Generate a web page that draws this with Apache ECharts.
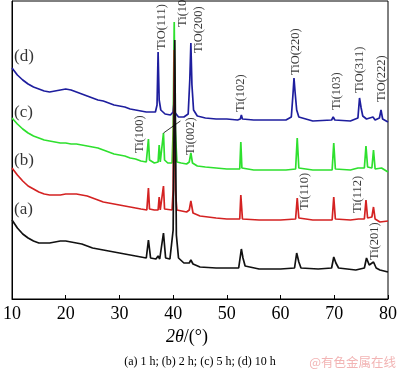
<!DOCTYPE html>
<html>
<head>
<meta charset="utf-8">
<script src="https://cdn.jsdelivr.net/npm/echarts@6/dist/echarts.min.js"></script>
<style>
html,body{margin:0;padding:0;background:#fff;}
#chart{width:400px;height:373px;}
</style>
</head>
<body>
<div id="chart"></div>
<script>
// 2θ (deg) and relative intensity (offset, arbitrary units)
const curveD = [[10,231],[11,224],[12,219],[13,215],[14,212],[15,210],[16,208],[17,207],[18,208],[19,209],[20,210],[21,209],[22,207],[23,205],[24,203],[25,201],[26,199],[27,198],[28,196],[29,194],[30,193],[31,192],[32,190],[33,189],[34,188],[35,187],[36,187],[36.7,187],[37.0,194],[37.2,247],[37.4,199],[37.7,189],[38.5,185],[39.5,184],[40.0,187],[40.2,199],[40.4,186],[41,182],[42,182],[42.8,185],[43.1,219],[43.3,256],[43.5,214],[43.8,189],[44.5,183],[46,181],[48,180],[50,180],[52,179],[52.5,180],[52.7,184],[52.9,180],[55,179],[58,179],[61,179],[62.0,182],[62.3,204],[62.5,221],[62.7,207],[63.0,189],[63.4,182],[66,178],[69.5,179],[69.8,182],[70.1,179],[73,178],[74.4,181],[74.7,201],[75.0,191],[75.3,183],[75.6,182],[76,180],[77.2,182],[77.6,179],[78.4,181],[78.7,189],[79.0,180],[80,177]];
const curveC = [[10,181],[11,175],[12,170],[13,166],[14,163],[15,161],[16,159],[17,158],[18,157],[19,156],[20,156],[21,155],[22,155],[23,154],[24,153],[25,152],[26,151],[27,149],[28,147],[29,145],[30,144],[31,143],[32,141],[33,140],[34,138],[35.0,137],[35.2,139],[35.4,160],[35.6,139],[36.5,136],[37.2,137],[37.4,154],[37.6,137],[37.9,137],[38.2,166],[38.4,139],[39,136],[39.8,136],[40.0,169],[40.2,277],[40.4,169],[40.7,137],[41.5,136],[42.5,135],[43.0,137],[43.3,146],[43.6,136],[44.5,133],[46,132],[48,131],[50,130],[52.4,130],[52.6,157],[52.8,131],[55,129],[58,129],[61,129],[62.8,130],[63.1,161],[63.4,131],[66,129],[69.6,129],[69.9,156],[70.2,130],[73,129],[74.4,131],[75.6,131],[75.9,153],[76.2,132],[77.0,131],[77.3,149],[77.6,130],[78.8,131],[80,127]];
const curveB = [[10,131],[11,124],[12,118],[13,113],[14,110],[15,107],[16,105],[17,104],[18,104],[19,104],[20,105],[21,105],[22,105],[23,104],[24,103],[25,101],[26,99],[27,97],[28,96],[29,95],[30,94],[31,93],[32,92],[33,91],[34,90],[35.1,89],[35.4,111],[35.6,90],[36.5,89],[37.2,89],[37.4,102],[37.6,89],[37.9,89],[38.2,113],[38.4,90],[39.8,89],[40.0,109],[40.2,249],[40.4,109],[40.7,89],[42.5,87],[43.0,89],[43.3,98],[43.7,86],[45,83],[48,81],[50,80],[52.4,80],[52.6,104],[52.9,80],[56,79],[60,79],[62.8,80],[63.1,101],[63.4,81],[66,79],[69.6,79],[69.9,102],[70.2,80],[73,79],[74.5,80],[75.6,80],[75.9,99],[76.2,81],[77.0,82],[77.3,92],[77.6,80],[78.5,77],[80,78]];
const curveA = [[10,79],[11,71],[12,65],[13,61],[14,58],[15,56],[16,56],[17,56],[18,57],[19,58],[20,58],[21,57],[22,56],[23,55],[24,53],[25,51],[26,50],[27,49],[28,48],[29,47],[30,46],[31,45],[32,44],[33,43],[34,42],[35.0,41],[35.4,59],[35.8,41],[36.8,40],[37.2,43],[37.5,40],[38.2,66],[38.6,41],[39.4,40],[40.0,69],[40.3,259],[40.6,64],[41.0,41],[42,36],[43.0,36],[43.3,39],[43.7,35],[45,32],[48,31],[52.2,31],[52.7,50],[53.0,41],[53.4,33],[56,30],[60,30],[62.6,31],[63.0,46],[63.4,37],[63.8,31],[67,30],[69.5,31],[69.9,42],[70.3,36],[70.8,31],[74,29],[75.6,31],[76.0,41],[76.5,34],[77.3,37],[77.8,31],[78.5,29],[80,27]];

const peakLabels = ['TiO(111)','Ti(101)','TiO(200)','Ti(100)','Ti(002)','Ti(102)','TiO(220)','Ti(103)','TiO(311)','TiO(222)','Ti(110)','Ti(112)','Ti(201)'];
const peakLabelX = [37.83,41.78,44.83,33.70,43.21,52.55,62.78,70.50,74.81,78.76,64.58,74.45,77.50];
const peakLabelY = [249,272,246,146,144,187,224,189,206,197,89,86,39];

const curveNames = ['(d)','(c)','(b)','(a)'];
const curveNameX = [10.0,10.0,10.0,10.0];
const curveNameY = [242,186,138,89];

const leaderLine = [[38.2,166],[41.35,178]];

const xTicks = [10,20,30,40,50,60,70,80];

const serif = 'Liberation Serif';
const chart = echarts.init(document.getElementById('chart'));

const labelData = peakLabels.map((t,i)=>({value:[peakLabelX[i],peakLabelY[i]],name:t}));
const nameData = curveNames.map((t,i)=>({value:[curveNameX[i],curveNameY[i]],name:t}));

function line(data,color){
  return {type:'line',data:data,showSymbol:false,symbol:'none',lineStyle:{color:color,width:1.7},animation:false,z:2};
}

chart.setOption({
  animation:false,
  grid:{left:3,right:7,top:1,bottom:74,show:true,borderColor:'#000',borderWidth:1},
  xAxis:{type:'value',min:xTicks[0],max:xTicks[xTicks.length-1],interval:10,
    axisLine:{show:true,lineStyle:{color:'#000',width:1}},
    axisTick:{show:true,inside:true,length:4,lineStyle:{color:'#000'}},
    splitLine:{show:false},
    axisLabel:{color:'#000',fontFamily:serif,fontSize:18,margin:6}
  },
  yAxis:{type:'value',min:0,max:298,show:true,axisLine:{show:true,lineStyle:{color:'#000'}},axisTick:{show:false},axisLabel:{show:false},splitLine:{show:false}},
  series:[
    line(curveC,'#2ee02e'),
    line(curveD,'#1e1e9e'),
    line(curveB,'#d42222'),
    line(curveA,'#111111'),
    {type:'line',data:leaderLine,showSymbol:false,symbol:'none',lineStyle:{color:'#000',width:0.8},z:3},
    {type:'scatter',data:labelData,symbolSize:1,itemStyle:{color:'rgba(0,0,0,0)'},z:4,
      label:{show:true,position:'inside',rotate:90,align:'left',verticalAlign:'middle',formatter:p=>p.name,
        fontFamily:serif,fontSize:12.5,color:'#000'}},
    {type:'scatter',data:nameData,symbolSize:1,itemStyle:{color:'rgba(0,0,0,0)'},z:4,
      label:{show:true,position:'inside',align:'left',verticalAlign:'middle',offset:[2,0],formatter:p=>p.name,
        fontFamily:serif,fontSize:17,color:'#000'}}
  ],
  graphic:[
    {type:'text',left:166,top:328,style:{text:'{i|2θ}/(°)',fontFamily:serif,fontSize:18,fill:'#000',
      rich:{i:{fontStyle:'italic',fontFamily:serif,fontSize:18,fill:'#000'}}}},
    {type:'text',left:'center',top:356,style:{text:'(a) 1 h; (b) 2 h; (c) 5 h; (d) 10 h',fontFamily:serif,fontSize:12,fill:'#000'}},
    {type:'text',right:4,top:356,style:{text:'@有色金属在线',fontFamily:'Noto Sans CJK SC',fontSize:12.5,fill:'#f2b4b4'}}
  ]
});
</script>
</body>
</html>
